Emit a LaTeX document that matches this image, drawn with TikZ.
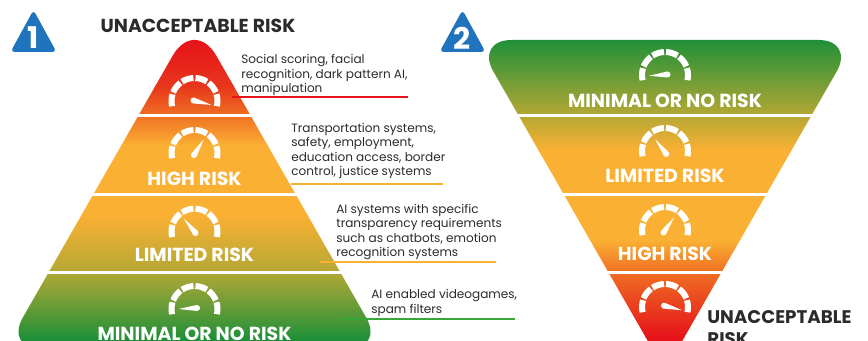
\documentclass[tikz,border=0pt]{standalone}
\usepackage{fontspec}
\setmainfont{Poppins}
\usepackage{tikz}

\definecolor{riskred}{HTML}{E6131A}
\definecolor{riskember}{HTML}{E8361C}
\definecolor{riskorange}{HTML}{EF7023}
\definecolor{riskyellow}{HTML}{FAB033}
\definecolor{riskolive}{HTML}{B5A835}
\definecolor{riskgreen}{HTML}{209038}
\definecolor{riskleaf}{HTML}{35A838}
\definecolor{badgeblue}{HTML}{1F74BD}
\definecolor{inkgrey}{HTML}{2B2B2B}

\tikzset{
    gaugetick/.style={white,line width=0.12cm},
    bandgap/.style={white,line width=0.06cm},
    leader/.style={line width=0.04cm},
    bandlabel/.style={white,inner sep=0pt,font=\fontsize{10.75}{12}\selectfont\bfseries},
    risktitle/.style={inkgrey,inner sep=0pt,align=left,font=\fontsize{10.7}{12.6}\selectfont\bfseries},
    examples/.style={inkgrey,inner sep=0pt,anchor=west,align=left,font=\fontsize{6.87}{8.2}\selectfont},
    badgenum/.style={white,inner sep=0pt,font=\fontsize{17}{17}\selectfont\bfseries}
}

% gauge with six ticks: centre x, centre y, pivot x, pivot y, needle angle
\newcommand{\riskgauge}[5]{
    \foreach \s in {-13,22.2,57.4,92.6,127.8,163} {
        \pgfmathsetmacro{\e}{\s+30.2}
        \draw[gaugetick,shift={(#1,#2)}] (\s:23) arc (\s:\e:23);
    }
    \fill[white,shift={(#3,#4)},rotate=#5] (18.5,0) -- (0,3) arc (90:270:3) -- cycle;
}

\begin{document}
\begin{tikzpicture}[x=0.02cm,y=0.02cm]
    \useasboundingbox (0,0) rectangle (868,341);
    \clip (0,0) rectangle (868,341);

    % Left pyramid
    \begin{scope}
        \clip (194.5,-8) [rounded corners=0.72cm] -- (4.8,-8) [rounded corners=0.88cm] -- (194.5,323.4) [rounded corners=0.72cm] -- (384.2,-8) [sharp corners] -- cycle;
        \foreach \ya/\yb/\ca/\cb in {301/255/riskred/riskember, 255/226/riskember/riskorange, 226/196/riskorange/riskyellow, 196/126/riskyellow/riskyellow, 126/70/riskyellow/riskolive, 70/3/riskolive/riskgreen} {
            \shade[top color=\ca,bottom color=\cb] (0,\yb-0.5) rectangle (400,\ya);
        }
        \fill[riskred] (0,301) rectangle (400,330);
        \fill[riskgreen] (0,-10) rectangle (400,3);
    \end{scope}

    % Right pyramid
    \begin{scope}
        \clip (665,301) [rounded corners=0.72cm] -- (475.3,301) -- (665,-30) -- (854.7,301) [sharp corners] -- cycle;
        \foreach \ya/\yb/\ca/\cb in {301/226/riskgreen/riskolive, 226/191/riskolive/riskyellow, 191/101/riskyellow/riskyellow, 101/70/riskyellow/riskorange, 70/4/riskorange/riskred} {
            \shade[top color=\ca,bottom color=\cb] (470,\yb-0.5) rectangle (860,\ya);
        }
        \fill[riskred] (470,-40) rectangle (860,4);
    \end{scope}

    % Gaps between the bands
    \foreach \y/\w in {225/60, 146.5/105, 68.5/150} {
        \draw[bandgap] (194.5-\w,\y) -- (194.5+\w,\y);
    }
    \foreach \y/\w in {225/150, 146.5/105, 68.5/60} {
        \draw[bandgap] (665-\w,\y) -- (665+\w,\y);
    }

    % Gauges
    \foreach \cx/\cy/\px/\py/\ang in {194.5/240/193.5/240.5/-14, 194.5/188/194/186/58, 194.5/109.3/195.5/108/129, 194.5/32/197/33/183,
        665/266/667.5/266.5/184, 665/190/666.3/187/127, 665/111/663.5/108.5/55, 665/34/664/35.3/-14} {
        \riskgauge{\cx}{\cy}{\px}{\py}{\ang}
    }

    % Band labels
    \node[bandlabel] (highleft) at (194.5,162.5) {HIGH RISK};
    \node[bandlabel] (limitedleft) at (194.5,86) {LIMITED RISK};
    \node[bandlabel] (minimalleft) at (194.5,7.5) {MINIMAL OR NO RISK};
    \node[bandlabel] (minimalright) at (665,240.5) {MINIMAL OR NO RISK};
    \node[bandlabel] (limitedright) at (665,165.5) {LIMITED RISK};
    \node[bandlabel] (highright) at (665,87) {HIGH RISK};

    % Titles
    \node[risktitle] (titleleft) at (198,315) {UNACCEPTABLE RISK};
    \node[risktitle,anchor=north west,font=\fontsize{10.4}{12.6}\selectfont\bfseries] (titleright) at (707,30.5) {UNACCEPTABLE\\RISK};

    % Example texts
    \node[examples] (textunacceptable) at (241,266) {Social scoring, facial\\recognition, dark pattern AI,\\manipulation};
    \node[examples] (texthigh) at (291,190) {Transportation systems,\\safety, employment,\\education access, border\\control, justice systems};
    \node[examples] (textlimited) at (336,109) {AI systems with specific\\transparency requirements\\such as chatbots, emotion\\recognition systems};
    \node[examples] (textminimal) at (371,38) {AI enabled videogames,\\spam filters};

    % Leader lines under the texts
    \coordinate (unacceptablefrom) at (232,243.7);
    \coordinate (unacceptableto) at (408,243.7);
    \coordinate (highfrom) at (291,157);
    \coordinate (highto) at (443,157);
    \coordinate (limitedfrom) at (320,79);
    \coordinate (limitedto) at (496,79);
    \coordinate (minimalfrom) at (339,21.5);
    \coordinate (minimalto) at (515,21.5);
    \draw[leader,riskred] (unacceptablefrom) -- (unacceptableto);
    \draw[leader,riskyellow] (highfrom) -- (highto);
    \draw[leader,riskyellow] (limitedfrom) -- (limitedto);
    \draw[leader,riskleaf] (minimalfrom) -- (minimalto);

    % Numbered badges
    \foreach \bx/\num in {33.5/1, 462.5/2} {
        \fill[badgeblue,rounded corners=0.08cm] (\bx-23,289) -- (\bx,331) -- (\bx+23,289) -- cycle;
        \node[badgenum] (badge\num) at (\bx,303) {\num};
    }
\end{tikzpicture}
\end{document}
